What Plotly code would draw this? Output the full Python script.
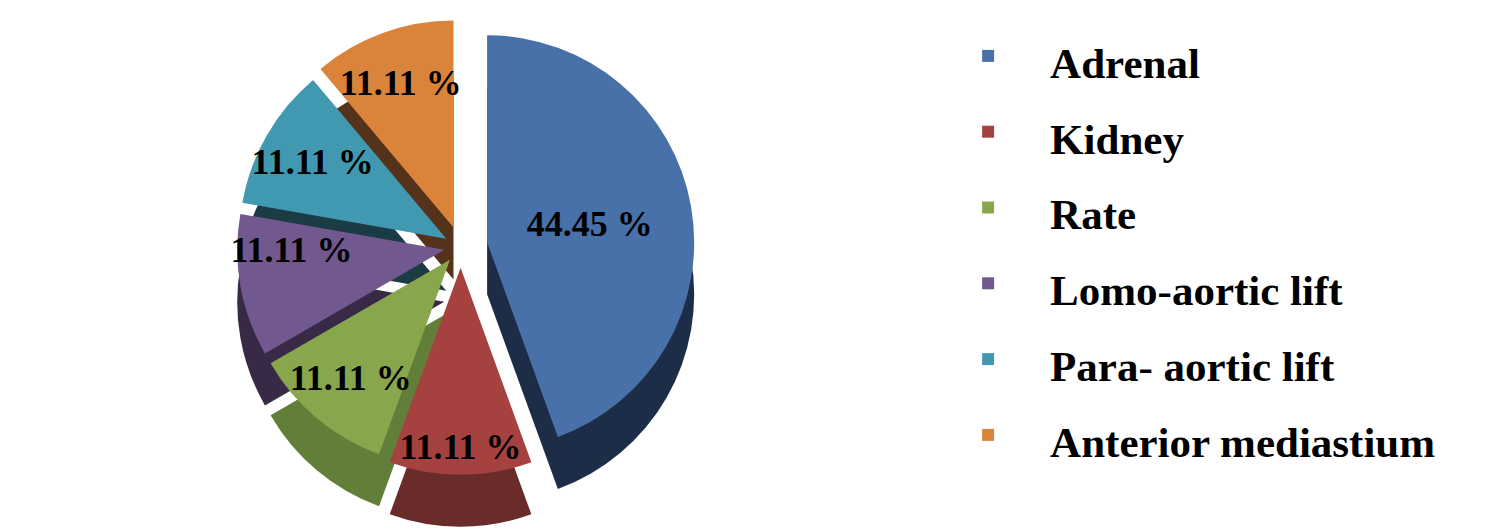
import plotly.graph_objects as go

# slice data
sites = ["Adrenal", "Kidney", "Rate", "Lomo-aortic lift",
         "Para- aortic lift", "Anterior mediastium"]
percent = [44.45, 11.11, 11.11, 11.11, 11.11, 11.11]

top_colors = ["#4771A8", "#A54240", "#88A64C", "#71598F", "#4199B1", "#DA843B"]
side_colors = ["#1E2D47", "#6A2C2B", "#627F3A", "#382A47", "#1B3B45", "#55321A"]
explode = [0.13, 0.10, 0.08, 0.08, 0.08, 0.10]

labels_txt = [f"{p:.2f} %" for p in percent]
serif = "Liberation Serif"
# legend rows are spaced by the legend font size, the visible text is smaller
legend_names = [f'<span style="font-size:43px">{s}</span>' for s in sites]

fig = go.Figure()

# darker copy underneath, shifted down -> fake 3D side walls
fig.add_trace(go.Pie(
    labels=legend_names, values=percent, sort=False, direction="clockwise",
    rotation=0, pull=explode, showlegend=False, textinfo="none",
    hoverinfo="skip",
    marker=dict(colors=side_colors, line=dict(width=0)),
    domain=dict(x=[0.0, 0.6], y=[0.0, 0.9]),
))

fig.add_trace(go.Pie(
    labels=legend_names, values=percent, sort=False, direction="clockwise",
    rotation=0, pull=explode, text=labels_txt, textinfo="text",
    textposition="inside", insidetextorientation="horizontal",
    hovertext=sites, hoverinfo="text+percent",
    textfont=dict(family=serif, size=36, color="black", weight="bold"),
    marker=dict(colors=top_colors, line=dict(width=0)),
    domain=dict(x=[0.0, 0.6], y=[0.1, 1.0]),
))

fig.update_layout(
    width=1502, height=530,
    margin=dict(l=5, r=5, t=5, b=5),
    paper_bgcolor="white", plot_bgcolor="white",
    uniformtext=dict(minsize=35, mode="show"),
    legend=dict(
        x=0.612, y=1.0, xanchor="left", yanchor="top",
        font=dict(family=serif, size=56, color="black", weight="bold"),
        itemwidth=114, tracegroupgap=0,
    ),
)

fig.write_html("out.html")
